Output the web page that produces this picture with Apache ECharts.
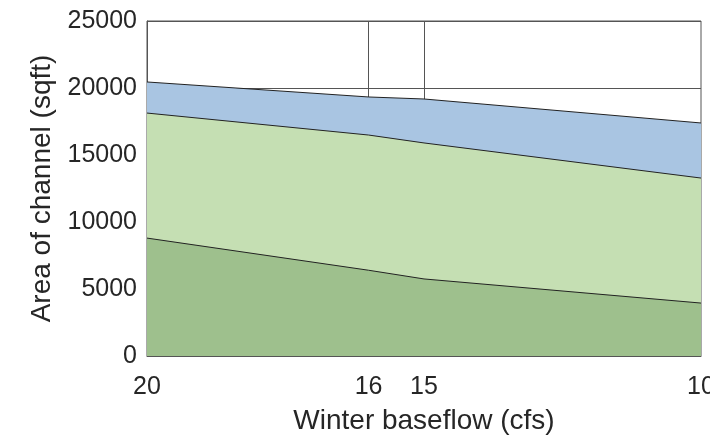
<!DOCTYPE html>
<html>
<head>
<meta charset="utf-8">
<script src="https://cdn.jsdelivr.net/npm/echarts@6/dist/echarts.min.js"></script>
<style>
  html, body { margin: 0; padding: 0; background: #fff; }
  #main { width: 710px; height: 439px; }
</style>
</head>
<body>
<div id="main"></div>
<script>
// winter baseflow (cfs), read left to right
const baseflow = [20, 16, 15, 10];
// stacked layers of channel area (sqft)
const lowerArea = [8800, 6400, 5750, 3950];
const middleArea = [9330, 10090, 10150, 9330];
const upperArea = [2320, 2840, 3280, 4110];
// tick labels on x, and the extra vertical grid lines
const xTickLabels = [20, 16, 15, 10];
const xGridLines = [16, 15];

const textColor = "#262626";
const gridColor = "#555";

// echarts stacks the x dimension when both axes are value axes,
// so add the layers up here and draw each top edge filled down to 0
function cumulative(layers) {
  return baseflow.map((x, i) => [x, layers.reduce((s, l) => s + l[i], 0)]);
}

function layer(data, color) {
  return {
    type: "line",
    symbol: "none",
    z: 2,
    lineStyle: { color: "#222", width: 1 },
    areaStyle: { color: color, opacity: 1 },
    data: data
  };
}

var myChart = echarts.init(document.getElementById("main"));

var option = {
  animation: false,
  backgroundColor: "#fff",
  grid: {
    left: 147,
    right: 9,
    top: 21,
    bottom: 83,
    outerBoundsMode: "none",
    show: true,
    borderColor: gridColor,
    borderWidth: 1
  },
  xAxis: {
    type: "value",
    min: 10,
    max: 20,
    inverse: true,
    name: "Winter baseflow (cfs)",
    nameLocation: "middle",
    nameGap: 51,
    nameTextStyle: { fontFamily: "Liberation Sans", fontSize: 28, color: textColor },
    axisLine: { show: true, lineStyle: { color: gridColor } },
    axisTick: { show: false },
    splitLine: { show: false },
    axisLabel: {
      customValues: xTickLabels,
      margin: 19,
      fontFamily: "Liberation Sans",
      fontSize: 25,
      color: textColor
    }
  },
  yAxis: {
    type: "value",
    min: 0,
    max: 25000,
    interval: 5000,
    name: "Area of channel (sqft)",
    nameLocation: "middle",
    nameGap: 90,
    nameTextStyle: { fontFamily: "Liberation Sans", fontSize: 28, color: textColor },
    axisLine: { show: true, lineStyle: { color: gridColor } },
    axisTick: { show: false },
    splitLine: { show: true, lineStyle: { color: gridColor, width: 1 } },
    axisLabel: {
      margin: 10,
      fontFamily: "Liberation Sans",
      fontSize: 25,
      color: textColor,
      formatter: v => String(v)
    }
  },
  series: [
    layer(cumulative([lowerArea, middleArea, upperArea]), "#a9c5e2"),
    layer(cumulative([lowerArea, middleArea]), "#c5dfb3"),
    layer(cumulative([lowerArea]), "#9ec08d"),
    {
      // vertical grid lines at 16 and 15, behind the areas
      type: "line",
      data: [],
      z: 1,
      markLine: {
        silent: true,
        z: 1,
        symbol: "none",
        label: { show: false },
        lineStyle: { color: gridColor, width: 1, type: "solid" },
        data: xGridLines.map(v => ({ xAxis: v }))
      }
    }
  ]
};

myChart.setOption(option);
</script>
</body>
</html>
